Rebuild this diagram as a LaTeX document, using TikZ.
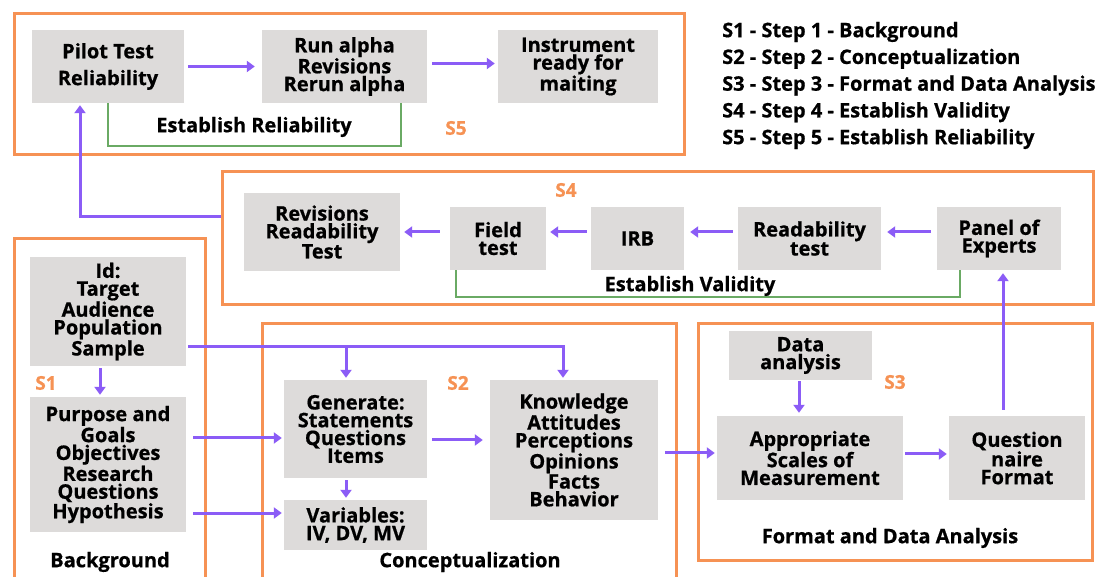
\documentclass[tikz,border=0pt]{standalone}
\usepackage{fontspec}
\setmainfont{Open Sans}[BoldFeatures={FakeBold=0.7}]
\usetikzlibrary{arrows.meta}
\definecolor{frameorange}{RGB}{246,146,84}
\definecolor{flowpurple}{RGB}{139,92,246}
\definecolor{boxgray}{RGB}{221,219,218}
\definecolor{bracketgreen}{RGB}{106,170,100}
\begin{document}
\begin{tikzpicture}[x=1pt,y=-1pt,
  frame/.style={draw=frameorange, line width=3pt, inner sep=0pt},
  gbox/.style={fill=boxgray, inner sep=0pt, align=center,
    font=\bfseries\fontsize{20}{17.8}\selectfont},
  arr/.style={draw=flowpurple, line width=3pt, line join=miter,
    -{Triangle[length=8pt,width=11pt]}},
  gline/.style={draw=bracketgreen, line width=2pt},
  lbl/.style={font=\bfseries\fontsize{20}{20}\selectfont, inner sep=0pt},
  slbl/.style={font=\bfseries\fontsize{19}{20}\selectfont, inner sep=0pt, text=frameorange}
]
\path[use as bounding box, clip] (0,0) rectangle (1096,577);
\fill[white] (0,0) rectangle (1096,577);

% step frames
\node[frame, minimum width=670, minimum height=141] (s5) at (349,84.5) {};
\node[frame, minimum width=871, minimum height=133] (s4) at (657.5,238.5) {};
\node[frame, minimum width=191, minimum height=361] (s1) at (109.5,419.5) {};
\node[frame, minimum width=414, minimum height=276] (s2) at (469,462) {};
\node[frame, minimum width=394, minimum height=236] (s3) at (895,442) {};

% S5: reliability
\node[gbox, minimum width=152, minimum height=73] (pilot) at (108,66.5) {Pilot Test\\[9pt]Reliability};
\node[gbox, minimum width=165, minimum height=73] (alpha) at (344.5,66.5) {Run alpha\\Revisions\\Rerun alpha};
\node[gbox, minimum width=160, minimum height=73] (instr) at (578,66.5) {Instrument\\ready for\\maiting};

% S4: validity
\node[gbox, minimum width=156, minimum height=78] (rev) at (322,232) {Revisions\\Readability\\Test};
\node[gbox, minimum width=96, minimum height=63] (field) at (498,238.5) {Field\\test};
\node[gbox, minimum width=93, minimum height=63] (irb) at (637.5,238.5) {IRB};
\node[gbox, minimum width=143, minimum height=63] (read) at (809.5,238.5) {Readability\\test};
\node[gbox, minimum width=124, minimum height=63] (panel) at (999,238.5) {Panel of\\Experts};

% S1: background
\node[gbox, minimum width=156, minimum height=109] (id) at (108,311.5) {Id:\\Target\\Audience\\Population\\Sample};
\node[gbox, minimum width=156, minimum height=135] (purpose) at (108,464.5) {Purpose and\\Goals\\Objectives\\Research\\Questions\\Hypothesis};

% S2: conceptualization
\node[gbox, minimum width=143, minimum height=98] (gen) at (355.5,429) {Generate:\\Statements\\Questions\\Items};
\node[gbox, minimum width=143, minimum height=50] (vars) at (355.5,525) {Variables:\\IV, DV, MV};
\node[gbox, minimum width=168, minimum height=140] (know) at (574,450) {Knowledge\\Attitudes\\Perceptions\\Opinions\\Facts\\Behavior};

% S3: format and data analysis
\node[gbox, minimum width=143, minimum height=49] (data) at (800.5,355.5) {Data\\analysis};
\node[gbox, minimum width=186, minimum height=84] (appr) at (810,458) {Appropriate\\Scales of\\Measurement};
\node[gbox, minimum width=136, minimum height=84] (quest) at (1017,458) {Question\\naire\\Format};

% green brackets
\draw[gline] (pilot.south) -- ++(0,43) -| ([xshift=-26pt]alpha.south east);
\draw[gline] ([xshift=6pt]field.south west) -- ++(0,27) -| ([xshift=23pt]panel.south west);

% connectors in S5
\draw[arr] ([xshift=4pt]pilot.east) -- ([xshift=-7pt]alpha.west);
\draw[arr] ([xshift=5pt,yshift=3pt]alpha.east) -- ([xshift=-3pt,yshift=3pt]instr.west);

% connectors in S4
\draw[arr] ([xshift=-6pt,yshift=6.5pt]panel.west) -- ([xshift=6pt,yshift=6.5pt]read.east);
\draw[arr] ([xshift=-5pt,yshift=6.5pt]read.west) -- ([xshift=6pt,yshift=6.5pt]irb.east);
\draw[arr] ([xshift=-4pt,yshift=6.5pt]irb.west) -- ([xshift=4pt,yshift=6.5pt]field.east);
\draw[arr] ([xshift=-10pt,yshift=6.5pt]field.west) -- ([xshift=4pt]rev.east);
\draw[arr, shorten >=2pt] ([yshift=21.5pt]s4.west) -| ([xshift=-28pt]pilot.south);

% connectors from S1
\draw[arr] ([xshift=-8pt,yshift=-2pt]id.south) -- ([xshift=-8pt,yshift=2pt]purpose.north);
\coordinate (idout) at ([xshift=2pt,yshift=-35.5pt]id.east);
\coordinate (genin) at ([xshift=-9.5pt,yshift=2pt]gen.north);
\coordinate (knowin) at ([xshift=-11pt,yshift=2pt]know.north);
\draw[arr] (idout) -- (knowin |- idout) -- (knowin);
\draw[arr] (genin |- idout) -- (genin);
\draw[arr] ([xshift=7pt,yshift=26.5pt]purpose.east) -- ([xshift=-2pt,yshift=-9pt]gen.west);
\draw[arr] ([xshift=7pt,yshift=-48.5pt]purpose.east) -- ([xshift=-2pt,yshift=12pt]vars.west);

% connectors in S2 and S3
\draw[arr] ([xshift=-9.5pt,yshift=-2pt]gen.south) -- ([xshift=-9.5pt,yshift=2pt]vars.north);
\draw[arr] ([xshift=5pt,yshift=-11pt]gen.east) -- ([xshift=-7pt,yshift=10pt]know.west);
\draw[arr] ([xshift=7pt,yshift=-3pt]know.east) -- ([xshift=-2pt,yshift=5pt]appr.west);
\coordinate (dout) at ([xshift=-1.5pt,yshift=-1pt]data.south);
\draw[arr, shorten >=3pt] (dout) -- (dout |- appr.north);
\draw[arr] ([xshift=2pt,yshift=4pt]appr.east) -- ([xshift=-2pt,yshift=4pt]quest.west);
\coordinate (qout) at ([xshift=-14pt,yshift=6pt]quest.north);
\draw[arr, shorten >=3pt] (qout) -- (qout |- panel.south);

% labels
\node[lbl] (rellbl) at (254,127) {Establish Reliability};
\node[slbl] (s5lbl) at (456,128) {S5};
\node[slbl] (s4lbl) at (566,190) {S4};
\node[lbl] (vallbl) at (690,286) {Establish Validity};
\node[slbl] (s1lbl) at (46,383) {S1};
\node[slbl] (s2lbl) at (458,383) {S2};
\node[slbl] (s3lbl) at (895,382) {S3};
\node[lbl] (bglbl) at (110,562) {Background};
\node[lbl] (conlbl) at (470,562) {Conceptualization};
\node[lbl] (fmtlbl) at (890,538) {Format and Data Analysis};

% legend
\node[lbl, anchor=west, align=left, font=\bfseries\fontsize{20}{26.75}\selectfont] (legend) at (722,85.5)
  {S1 - Step 1 - Background\\S2 - Step 2 - Conceptualization\\S3 - Step 3 - Format and Data Analysis\\S4 - Step 4 - Establish Validity\\S5 - Step 5 - Establish Reliability};
\end{tikzpicture}
\end{document}
